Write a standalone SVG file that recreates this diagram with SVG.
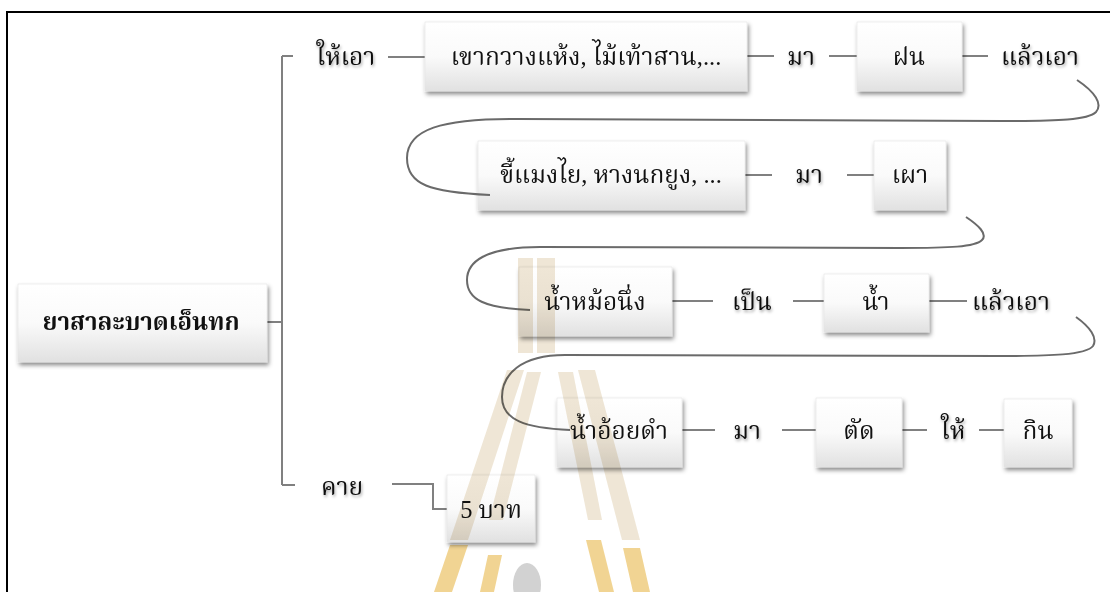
<svg xmlns="http://www.w3.org/2000/svg" width="1110" height="592" viewBox="0 0 1110 592">
<defs>
<linearGradient id="boxg" x1="0" y1="0" x2="0" y2="1">
<stop offset="0" stop-color="#ffffff"/>
<stop offset="0.5" stop-color="#fafafa"/>
<stop offset="1" stop-color="#e1e1e1"/>
</linearGradient>
<filter id="bsh" x="-10%" y="-20%" width="125%" height="150%">
<feDropShadow dx="1.5" dy="3" stdDeviation="2" flood-color="#000" flood-opacity="0.45"/>
</filter>
<filter id="tsh" x="-20%" y="-30%" width="140%" height="170%">
<feDropShadow dx="1" dy="2" stdDeviation="1.5" flood-color="#000" flood-opacity="0.35"/>
</filter>
</defs>
<style>
.box{fill:url(#boxg);stroke:#e4e4e4;stroke-width:0.6;filter:url(#bsh)}
.t{font-family:"Liberation Serif","Noto Serif Thai","Noto Sans Thai",serif;font-size:24.5px;fill:#111;text-anchor:middle}
.lbl{filter:url(#tsh)}
.b{font-weight:bold;font-size:24px}
.c{fill:none;stroke:#808080;stroke-width:2}
.cv{fill:none;stroke:#6a6a6a;stroke-width:2}
.wm{fill:#d9c49c;opacity:0.42;mix-blend-mode:multiply}
.wg{fill:#e8b84a;opacity:0.6;mix-blend-mode:multiply}
</style>
<rect x="0" y="0" width="1110" height="592" fill="#fff"/>
<rect x="7" y="12" width="1110" height="600" fill="none" stroke="#000" stroke-width="2"/>

<g id="connectors">
<path class="c" d="M267,322 H282 M282,56 V485 M282,56 H293 M282,485 H295"/>
<path class="c" d="M388,57 H425 M747,56 H774 M829,56 H857 M962,56 H988"/>
<path class="c" d="M745,175 H772 M847,175 H874"/>
<path class="c" d="M672,301 H713 M793,301 H824 M929,301 H967"/>
<path class="c" d="M682,430 H715 M782,430 H816 M902,430 H927 M979,430 H1004"/>
<path class="c" d="M392,484 H433 V509 H447"/>
</g>

<g id="root"><rect class="box" x="18" y="284" width="249" height="78"/><text class="t b" x="141" y="330">ยาสาละบาดเอ็นทก</text></g>
<g id="l-haiao"><text class="t lbl" x="346" y="65">ให้เอา</text></g>
<g id="n1"><rect class="box" x="425" y="22" width="322" height="69"/><text class="t" x="586" y="65">เขากวางแห้ง, ไม้เท้าสาน,...</text></g>
<g id="l-ma1"><text class="t lbl" x="801" y="65">มา</text></g>
<g id="n2"><rect class="box" x="857" y="22" width="105" height="69"/><text class="t" x="909" y="65">ฝน</text></g>
<g id="l-laeo1"><text class="t lbl" x="1040" y="65">แล้วเอา</text></g>

<g id="n3"><rect class="box" x="478" y="141" width="267" height="69"/><text class="t" x="611" y="183">ขี้แมงไย, หางนกยูง, ...</text></g>
<g id="l-ma2"><text class="t lbl" x="809" y="183">มา</text></g>
<g id="n4"><rect class="box" x="874" y="141" width="72" height="69"/><text class="t" x="910" y="183">เผา</text></g>

<g id="n5"><rect class="box" x="519" y="267" width="153" height="69"/><text class="t" x="595" y="310">น้ำหม้อนึ่ง</text></g>
<g id="l-pen"><text class="t lbl" x="752" y="310">เป็น</text></g>
<g id="n6"><rect class="box" x="824" y="274" width="105" height="58"/><text class="t" x="876" y="310">น้ำ</text></g>
<g id="l-laeo2"><text class="t lbl" x="1011" y="310">แล้วเอา</text></g>

<g id="n7"><rect class="box" x="557" y="398" width="125" height="69"/><text class="t" x="619" y="439">น้ำอ้อยดำ</text></g>
<g id="l-ma3"><text class="t lbl" x="747" y="439">มา</text></g>
<g id="n8"><rect class="box" x="816" y="398" width="86" height="69"/><text class="t" x="859" y="439">ตัด</text></g>
<g id="l-hai"><text class="t lbl" x="953" y="439">ให้</text></g>
<g id="n9"><rect class="box" x="1004" y="399" width="68" height="68"/><text class="t" x="1038" y="439">กิน</text></g>

<g id="l-khai"><text class="t lbl" x="342" y="495">คาย</text></g>
<g id="n10"><rect class="box" x="447" y="475" width="88" height="67"/><text class="t" x="491" y="518">5 บาท</text></g>

<g id="curves">
<path class="cv" d="M1077,80 C1095,92 1103,104 1096,112 C1088,120 1060,121 1000,121 L520,119 C440,118 407,130 407,158 C407,185 430,192 490,195"/>
<path class="cv" d="M966,217 C978,225 988,234 982,240 C975,247 950,248 900,248 L540,247 C485,247 467,262 467,280 C467,300 485,308 530,310"/>
<path class="cv" d="M1076,317 C1090,327 1098,338 1093,346 C1086,355 1050,356 1000,356 L565,355 C520,355 502,375 502,397 C502,420 525,428 570,430"/>
</g>

<g id="watermark">
<rect class="wm" x="518" y="258" width="15" height="95"/>
<rect class="wm" x="537" y="258" width="18" height="95"/>
<polygon class="wm" points="507,370 524,370 468,540 450,540"/>
<polygon class="wm" points="527,372 541,372 503,520 489,520"/>
<polygon class="wm" points="558,372 573,372 602,520 588,520"/>
<polygon class="wm" points="578,370 595,370 640,540 622,540"/>
<polygon class="wg" points="450,545 468,545 452,592 434,592"/>
<polygon class="wg" points="488,555 502,555 494,592 480,592"/>
<polygon class="wg" points="586,540 601,540 614,592 599,592"/>
<polygon class="wg" points="623,548 640,548 650,592 633,592"/>
<ellipse cx="527" cy="585" rx="14" ry="22" fill="#d2d2d2"/>
</g>
</svg>
